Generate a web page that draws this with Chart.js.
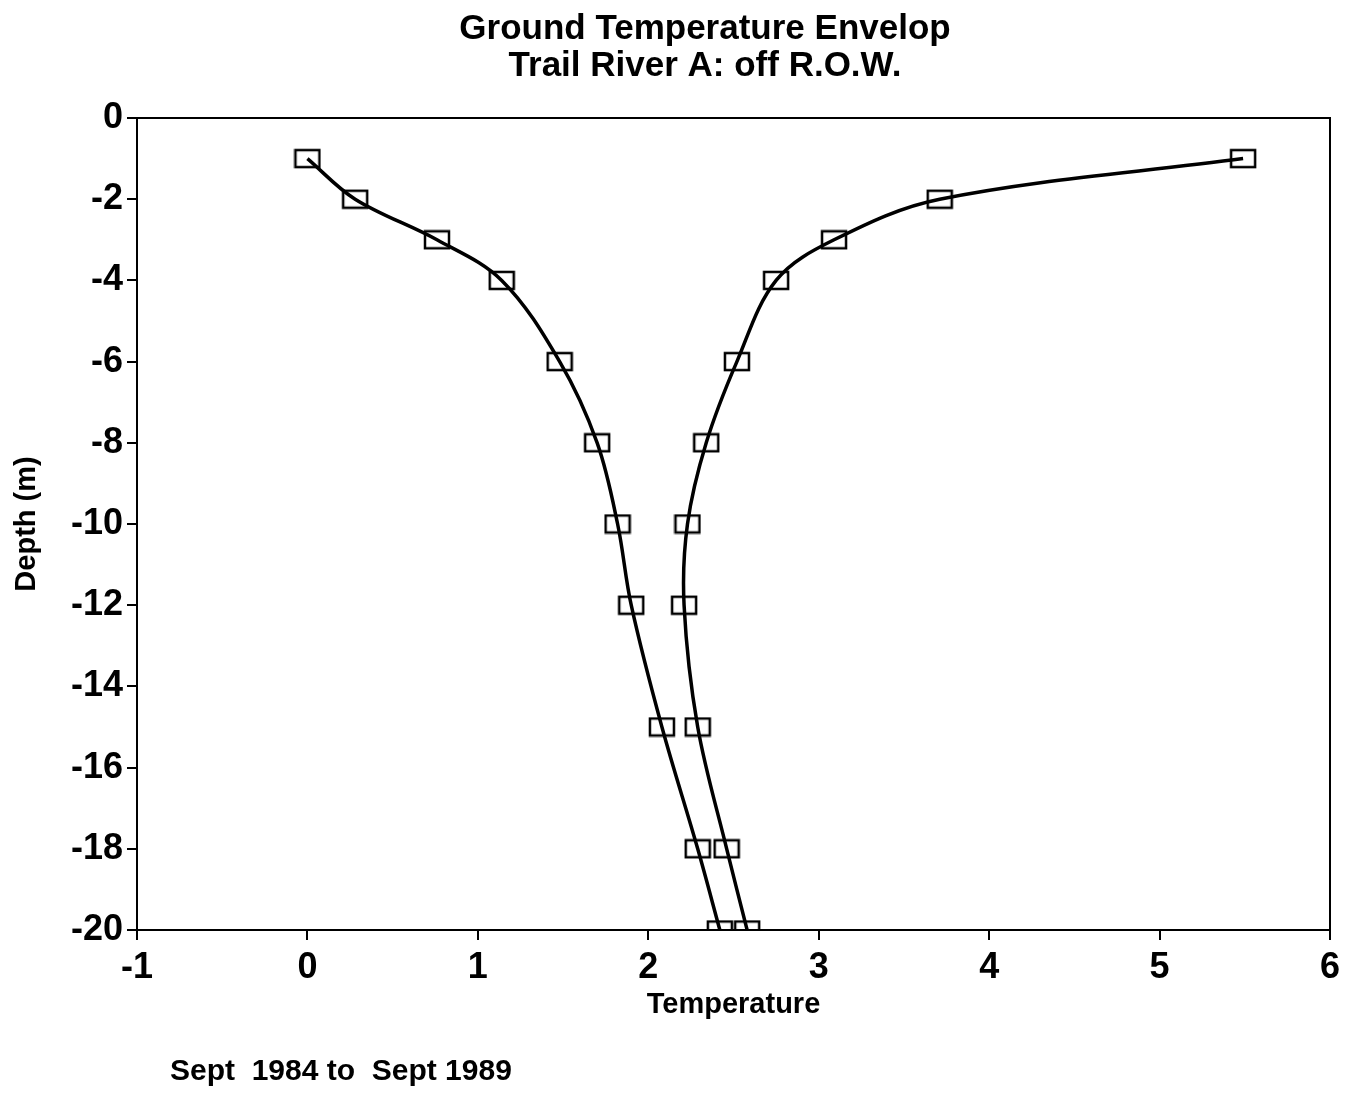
<!DOCTYPE html>
<html>
<head>
<meta charset="utf-8">
<script src="https://cdn.jsdelivr.net/npm/chart.js@4.4.0/dist/chart.umd.min.js"></script>
<style>
  html, body { margin:0; padding:0; background:#fff; }
  #wrap { width:1355px; height:1093px; }
</style>
</head>
<body>
<div id="wrap"><canvas id="myCanvas" width="1355" height="1093"></canvas></div>
<script>
// depth in metres (same for both curves)
var depths = [-1, -2, -3, -4, -6, -8, -10, -12, -15, -18, -20];
// minimum and maximum temperature envelope
var minTemps = [0.0, 0.28, 0.76, 1.14, 1.48, 1.70, 1.82, 1.90, 2.08, 2.29, 2.42];
var maxTemps = [5.49, 3.71, 3.09, 2.75, 2.52, 2.34, 2.23, 2.21, 2.29, 2.46, 2.58];
var titleLines = ["Ground Temperature Envelop", "Trail River A: off R.O.W."];
var footNote = "Sept  1984 to  Sept 1989";

function pairs(xs){
  return xs.map(function(v, i){ return {x: v, y: depths[i]}; });
}

// open rectangle marker
var box = document.createElement('canvas');
box.width = 28; box.height = 21;
var bctx = box.getContext('2d');
bctx.strokeStyle = '#000';
bctx.lineWidth = 2.5;
bctx.strokeRect(2, 2, 24, 17);

var font = '"Liberation Sans", Arial, sans-serif';

// frame on top/right, titles and the date note
var framePlugin = {
  id: 'frame',
  afterDraw: function(chart){
    var c = chart.ctx, a = chart.chartArea;
    c.save();
    c.strokeStyle = '#000';
    c.lineWidth = 2;
    c.beginPath();
    c.moveTo(a.left, a.top);
    c.lineTo(a.right, a.top);
    c.lineTo(a.right, a.bottom);
    c.stroke();
    c.fillStyle = '#000';
    c.textBaseline = 'middle';
    c.textAlign = 'center';
    c.font = 'bold 35px ' + font;
    c.fillText(titleLines[0], 705, 29);
    c.fillText(titleLines[1], 705, 66);
    c.textAlign = 'left';
    c.font = 'bold 30px ' + font;
    c.fillText(footNote, 170, 1072);
    c.restore();
  }
};

var ctx = document.getElementById('myCanvas').getContext('2d');
var chart = new Chart(ctx, {
  type: 'scatter',
  data: {
    datasets: [{
      data: pairs(minTemps),
      showLine: true,
      borderColor: '#000',
      borderWidth: 3.5,
      tension: 0.35,
      pointStyle: box,
      pointRadius: 10
    }, {
      data: pairs(maxTemps),
      showLine: true,
      borderColor: '#000',
      borderWidth: 3.5,
      tension: 0.35,
      pointStyle: box,
      pointRadius: 10
    }]
  },
  options: {
    responsive: false,
    animation: false,
    layout: { padding: { left: 10, right: 25, top: 118, bottom: 71 } },
    plugins: {
      legend: { display: false },
      tooltip: { enabled: false },
      title: { display: false }
    },
    scales: {
      x: {
        type: 'linear',
        min: -1, max: 6,
        afterFit: function(s){ s.height = 92; },
        ticks: { stepSize: 1, color: '#000', padding: 6,
          font: { family: font, size: 36, weight: 'bold' } },
        grid: { display: true, drawOnChartArea: false, tickLength: 10, color: '#000', lineWidth: 2 },
        border: { display: true, color: '#000', width: 2 },
        title: { display: true, text: 'Temperature', color: '#000',
          font: { family: font, size: 29, weight: 'bold' }, padding: 0 }
      },
      y: {
        type: 'linear',
        min: -20, max: 0,
        afterFit: function(s){ s.width = 127; },
        ticks: { stepSize: 2, color: '#000', padding: 4,
          font: { family: font, size: 36, weight: 'bold' } },
        grid: { display: true, drawOnChartArea: false, tickLength: 10, color: '#000', lineWidth: 2 },
        border: { display: true, color: '#000', width: 2 },
        title: { display: true, text: 'Depth (m)', color: '#000',
          font: { family: font, size: 29, weight: 'bold' }, padding: 0 }
      }
    }
  },
  plugins: [framePlugin]
});
</script>
</body>
</html>
